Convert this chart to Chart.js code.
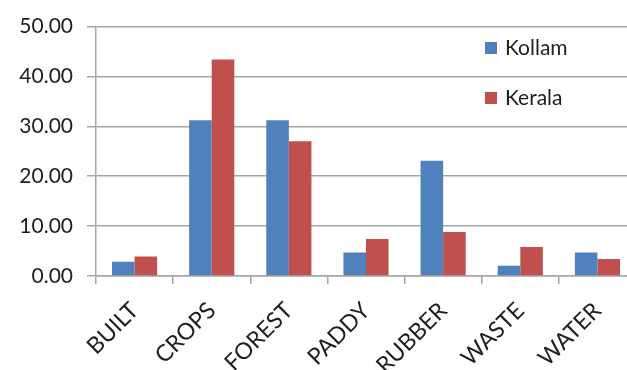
<!DOCTYPE html>
<html>
<head>
<meta charset="utf-8">
<script src="https://cdn.jsdelivr.net/npm/chart.js@4/dist/chart.umd.min.js"></script>
<style>
  html, body { margin: 0; padding: 0; background: #fff; overflow: hidden; }
  #wrap { width: 640px; height: 370px; }
</style>
</head>
<body>
<div id="wrap"><canvas id="c" width="640" height="370"></canvas></div>
<script>
// Land-use share (%) by class
const categories = ['BUILT', 'CROPS', 'FOREST', 'PADDY', 'RUBBER', 'WASTE', 'WATER'];
const kollam = [2.85, 31.2, 31.2, 4.7, 23.1, 2.05, 4.7];
const kerala = [3.9, 43.4, 27.0, 7.4, 8.8, 5.8, 3.4];
const seriesNames = ['Kollam', 'Kerala'];

const FONT = 'Lato, "Open Sans", sans-serif';
const TEXT = '#1e1e1e';
const GRID = '#a6a6a6';

// Legend stacked vertically inside the plot, top-right
const insideLegend = {
  id: 'insideLegend',
  afterDraw(chart) {
    const ctx = chart.ctx;
    ctx.save();
    ctx.font = '21px ' + FONT;
    ctx.textBaseline = 'middle';
    ctx.textAlign = 'left';
    chart.data.datasets.forEach((ds, i) => {
      const y = 48 + i * 50;
      ctx.fillStyle = ds.backgroundColor;
      ctx.fillRect(485, y - 6, 12, 12);
      ctx.fillStyle = TEXT;
      ctx.fillText(ds.label, 505, y);
    });
    ctx.restore();
  }
};

new Chart(document.getElementById('c'), {
  type: 'bar',
  data: {
    labels: categories,
    datasets: [
      { label: seriesNames[0], data: kollam, backgroundColor: '#4F81BD' },
      { label: seriesNames[1], data: kerala, backgroundColor: '#C0504D' }
    ]
  },
  options: {
    responsive: false,
    animation: false,
    devicePixelRatio: 1,
    layout: { padding: { top: 23, right: 4, left: 0, bottom: 0 } },
    datasets: { bar: { categoryPercentage: 0.585, barPercentage: 1.0 } },
    plugins: { legend: { display: false }, tooltip: { enabled: false } },
    scales: {
      x: {
        grid: { offset: true, drawOnChartArea: false, drawTicks: true, tickLength: 8, color: GRID, lineWidth: 1.5 },
        border: { color: GRID, width: 1.5 },
        ticks: {
          color: TEXT, font: { family: FONT, size: 23 },
          minRotation: 45, maxRotation: 45, padding: 13, autoSkip: false
        },
        afterFit(s) { s.height = 370 - 276; }
      },
      y: {
        min: 0, max: 50,
        grid: { color: GRID, lineWidth: 1.5, drawTicks: true, tickLength: 9 },
        border: { color: GRID, width: 1.5 },
        ticks: {
          stepSize: 10, color: TEXT, font: { family: FONT, size: 21 }, padding: 14,
          callback: v => v.toFixed(2)
        },
        afterFit(s) { s.width = 96; }
      }
    }
  },
  plugins: [insideLegend]
});
</script>
</body>
</html>
